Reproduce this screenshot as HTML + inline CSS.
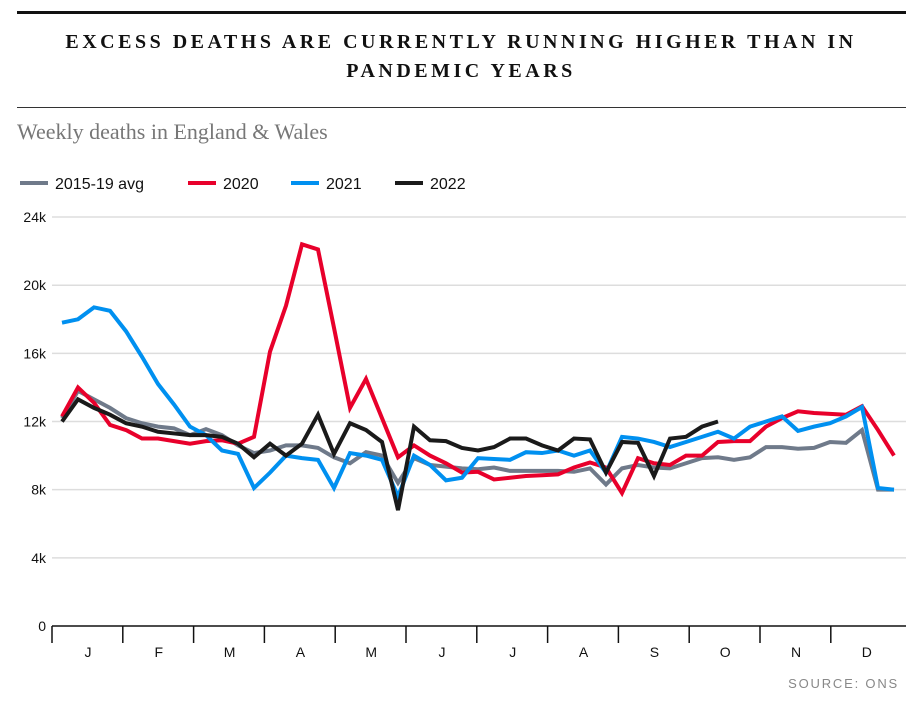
<!DOCTYPE html>
<html><head><meta charset="utf-8"><style>
body{margin:0;background:#fff;width:923px;height:703px;overflow:hidden;font-family:"Liberation Sans",sans-serif}
</style></head><body>
<svg width="923" height="703">
<rect x="17" y="11" width="889" height="3" fill="#111"/>
<text x="461" y="48" text-anchor="middle" font-family="Liberation Serif" font-weight="bold" font-size="20" letter-spacing="3.5" fill="#111">EXCESS DEATHS ARE CURRENTLY RUNNING HIGHER THAN IN</text>
<text x="461" y="77" text-anchor="middle" font-family="Liberation Serif" font-weight="bold" font-size="20" letter-spacing="3.5" fill="#111">PANDEMIC YEARS</text>
<rect x="17" y="107" width="889" height="1" fill="#333"/>
<text x="17" y="139" font-family="Liberation Serif" font-size="22" fill="#777">Weekly deaths in England &amp; Wales</text>
<g id="legend" font-size="16" fill="#111"></g>
<g id="grid"></g><g id="series"></g><g id="axis"></g>
<text x="899" y="688" text-anchor="end" font-size="13" letter-spacing="1.8" fill="#888">SOURCE: ONS</text>
</svg>
<script>
const avg=[12.2,13.8,13.3,12.8,12.2,11.9,11.7,11.6,11.2,11.55,11.2,10.6,10.15,10.3,10.6,10.6,10.45,9.9,9.55,10.2,10.0,8.4,9.85,9.45,9.35,9.25,9.2,9.3,9.1,9.1,9.1,9.1,9.05,9.25,8.3,9.25,9.45,9.3,9.25,9.55,9.85,9.9,9.75,9.9,10.5,10.5,10.4,10.45,10.8,10.75,11.5,8.0,8.0];
const y2020=[12.3,14.0,13.1,11.8,11.5,11.0,11.0,10.85,10.7,10.85,10.9,10.7,11.1,16.1,18.8,22.4,22.1,17.5,12.8,14.5,12.2,9.9,10.6,10.0,9.55,9.0,9.05,8.6,8.7,8.8,8.85,8.9,9.3,9.6,9.3,7.8,9.85,9.55,9.45,10.0,10.0,10.8,10.85,10.85,11.7,12.2,12.6,12.5,12.45,12.4,12.9,11.5,10.0];
const y2021=[17.8,18.0,18.7,18.5,17.3,15.8,14.2,13.0,11.7,11.2,10.3,10.1,8.1,9.0,10.0,9.85,9.75,8.1,10.15,10.0,9.75,7.6,10.0,9.45,8.55,8.7,9.85,9.8,9.75,10.2,10.15,10.3,10.0,10.3,9.0,11.1,11.0,10.8,10.5,10.8,11.1,11.4,11.0,11.7,12.0,12.3,11.45,11.7,11.9,12.3,12.85,8.1,8.0];
const y2022=[12.0,13.3,12.8,12.4,11.9,11.7,11.4,11.3,11.2,11.2,11.1,10.7,9.9,10.7,10.0,10.7,12.4,10.1,11.9,11.5,10.8,6.8,11.7,10.9,10.85,10.45,10.3,10.5,11.0,11.0,10.6,10.3,11.0,10.95,9.0,10.8,10.75,8.8,11.0,11.1,11.7,12.0];
const yTicks=[0,4,8,12,16,20,24];
const months=["J","F","M","A","M","J","J","A","S","O","N","D"];
const NS="http://www.w3.org/2000/svg";
const X=i=>62+i*16.0;
const Y=v=>626-v*17.04;
const mk=(t,a,p)=>{const e=document.createElementNS(NS,t);for(const k in a)e.setAttribute(k,a[k]);p.appendChild(e);return e;};
const grid=document.getElementById('grid'),ax=document.getElementById('axis'),ser=document.getElementById('series'),lg=document.getElementById('legend');
yTicks.forEach(v=>{
 if(v>0){const l=mk('line',{x1:52,x2:906,y1:Y(v),y2:Y(v),stroke:'#ddd','stroke-width':1.5},grid);
 
 }
 const t=mk('text',{x:46,y:Y(v)+5,'text-anchor':'end','font-size':14,fill:'#111'},ax);t.textContent=v===0?'0':v+'k';
 
 
});
const base=mk('line',{x1:52,x2:906,y1:626,y2:626,stroke:'#111','stroke-width':1.5},ax);


months.forEach((m,i)=>{
 const x0=52+i*70.8;
 const tk=mk('line',{x1:x0,x2:x0,y1:626,y2:643,stroke:'#111','stroke-width':1.5},ax);
 
 
 const t=mk('text',{x:x0+36,y:657,'text-anchor':'middle','font-size':14,fill:'#111'},ax);t.textContent=m;
 
 
});
const S=[[avg,'#6f7a8a','2015-19 avg',20],[y2020,'#e8002b','2020',188],[y2021,'#0090f0','2021',291],[y2022,'#1a1a1a','2022',395]];
S.forEach(([d,c,n,lx])=>{
 const p=mk('polyline',{points:d.map((v,i)=>X(i)+','+Y(v)).join(' '),fill:'none',stroke:c,'stroke-width':4,'stroke-linejoin':'miter'},ser);
 
 
 const l=mk('line',{x1:lx,x2:lx+28,y1:183,y2:183,stroke:c,'stroke-width':4},lg);
 
 
 const t=mk('text',{x:lx+35,y:189,'font-size':16,fill:'#111'},lg);t.textContent=n;
 
 
});
</script>
</body></html>
